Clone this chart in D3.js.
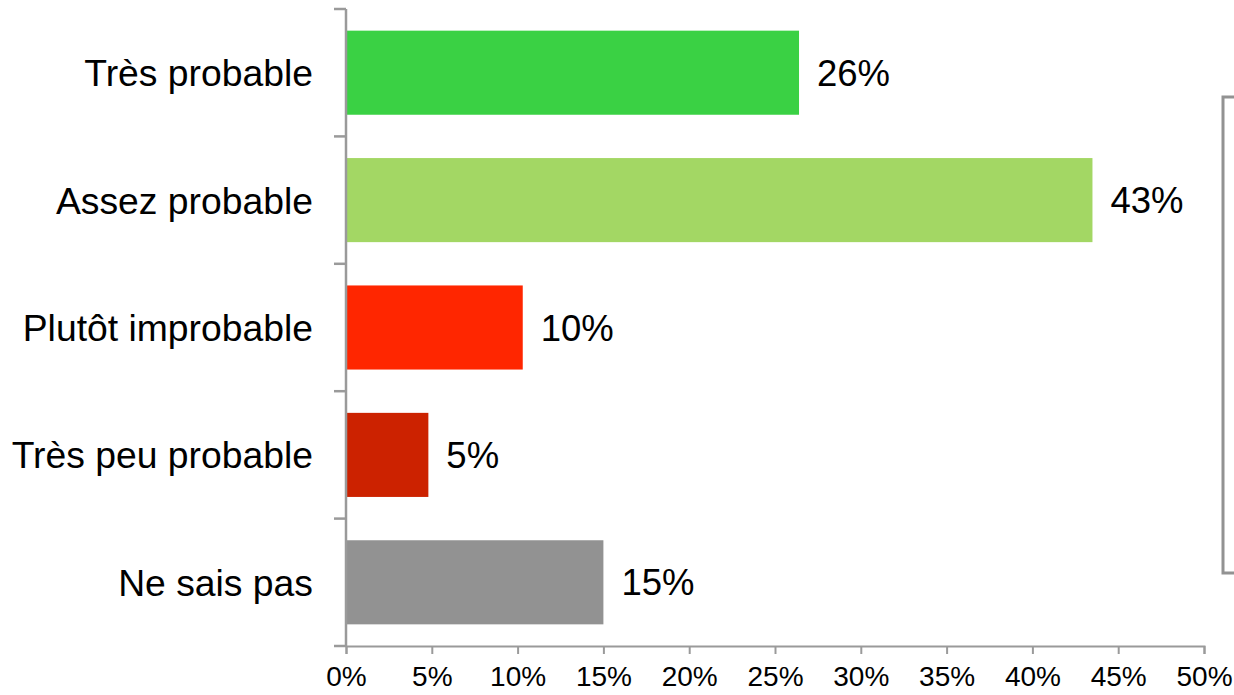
<!DOCTYPE html>
<html>
<head>
<meta charset="utf-8">
<script src="https://cdn.jsdelivr.net/npm/d3@7"></script>
<style>
  body { margin: 0; background: #fff; }
  svg { display: block; font-family: "Liberation Sans", Arial, sans-serif; }
</style>
</head>
<body>
<div id="chart"></div>
<script>
// data
const categories = ["Très probable", "Assez probable", "Plutôt improbable", "Très peu probable", "Ne sais pas"];
const values = [26.4, 43.5, 10.3, 4.8, 15.0];
const valueLabels = ["26%", "43%", "10%", "5%", "15%"];
const colors = ["#3ad144", "#a3d764", "#ff2600", "#cc2200", "#929292"];
const xTicks = [0, 5, 10, 15, 20, 25, 30, 35, 40, 45, 50];

const W = 1234, H = 695;
const margin = {top: 9, right: 30, bottom: 49, left: 346};
const width = W - margin.left - margin.right,
    height = H - margin.top - margin.bottom;

const svg = d3.select("#chart")
  .append("svg")
  .attr("width", W)
  .attr("height", H)
  .append("g")
  .attr("transform", `translate(${margin.left},${margin.top})`);

const x = d3.scaleLinear().domain([0, 50]).range([0, 858]);
const y = d3.scaleBand().domain(categories).range([0, height]).paddingInner(0.34).paddingOuter(0.17);

const axisColor = "#9a9a9a";

// bars
svg.selectAll(".bar")
  .data(categories)
  .join("rect")
    .attr("x", 0)
    .attr("y", d => y(d))
    .attr("width", (d, i) => x(values[i]))
    .attr("height", y.bandwidth())
    .attr("fill", (d, i) => colors[i]);

// value labels
svg.selectAll(".val")
  .data(categories)
  .join("text")
    .attr("x", (d, i) => x(values[i]) + 18)
    .attr("y", d => y(d) + y.bandwidth() / 2)
    .attr("dy", "0.36em")
    .attr("font-size", 36.5)
    .attr("fill", "#000")
    .text((d, i) => valueLabels[i]);

// category labels
svg.selectAll(".cat")
  .data(categories)
  .join("text")
    .attr("x", -33)
    .attr("y", d => y(d) + y.bandwidth() / 2)
    .attr("dy", "0.36em")
    .attr("text-anchor", "end")
    .attr("font-size", 37.3)
    .attr("fill", "#000")
    .text(d => d);

// y axis line and band ticks
const step = y.step();
const bounds = d3.range(categories.length + 1).map(i => i * step);
svg.append("line")
  .attr("x1", 0).attr("x2", 0)
  .attr("y1", 0).attr("y2", height)
  .attr("stroke", axisColor).attr("stroke-width", 2.5);
svg.selectAll(".ytick")
  .data(bounds)
  .join("line")
    .attr("x1", -12).attr("x2", 0)
    .attr("y1", d => d).attr("y2", d => d)
    .attr("stroke", axisColor).attr("stroke-width", 2.5);

// x axis
const xAxis = svg.append("g")
  .attr("transform", `translate(0,${height})`)
  .call(d3.axisBottom(x).tickValues(xTicks).tickSize(8).tickPadding(12).tickFormat(d => d + "%"));
xAxis.select(".domain").attr("stroke", axisColor).attr("stroke-width", 2);
xAxis.selectAll(".tick line").attr("stroke", axisColor).attr("stroke-width", 2);
xAxis.selectAll(".tick text").attr("font-size", 28).attr("fill", "#000")
  .attr("font-family", "Liberation Sans, Arial, sans-serif");

// bracket on the right
const bx = 1223 - margin.left;
svg.append("path")
  .attr("d", `M${bx + 20},${97 - margin.top} H${bx} V${573 - margin.top} H${bx + 20}`)
  .attr("fill", "none")
  .attr("stroke", "#929292")
  .attr("stroke-width", 3);
</script>
</body>
</html>
